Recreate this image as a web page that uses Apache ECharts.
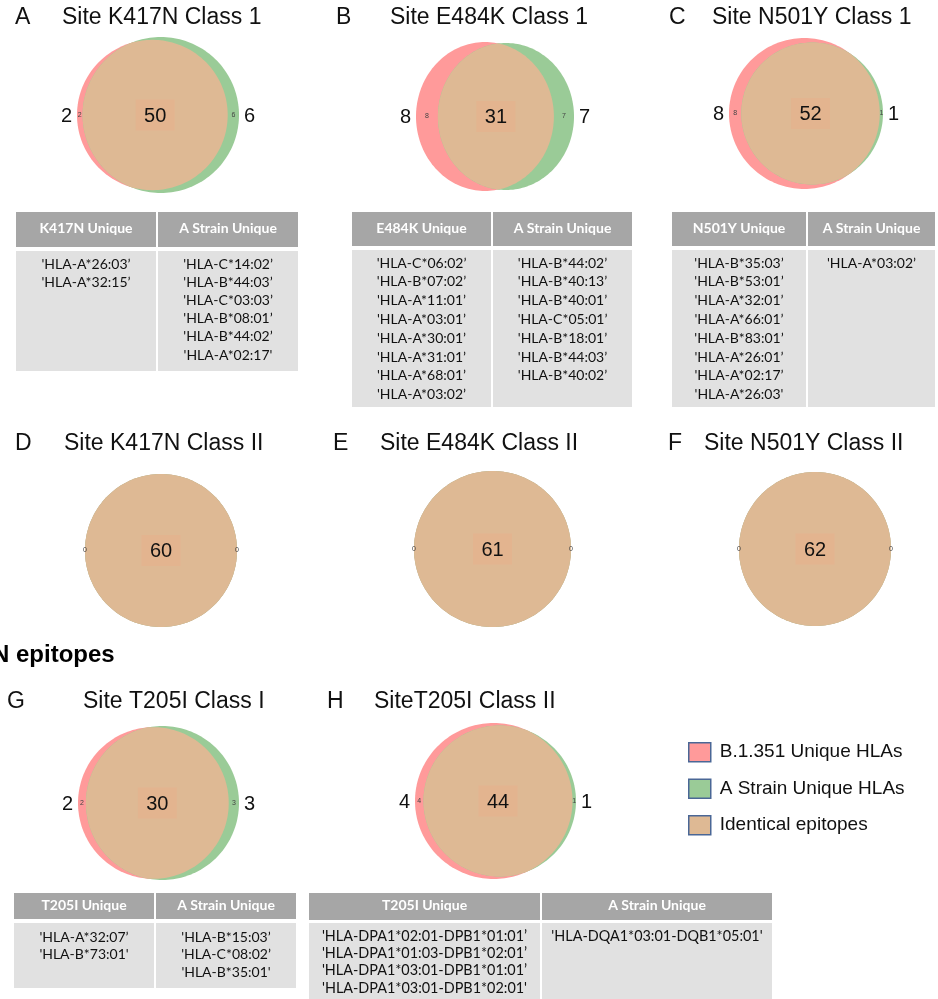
<!DOCTYPE html>
<html>
<head>
<meta charset="utf-8">
<script src="https://cdn.jsdelivr.net/npm/echarts@6/dist/echarts.min.js"></script>
<style>
  html, body { margin: 0; padding: 0; background: #ffffff; }
  #chart { width: 938px; height: 999px; }
</style>
</head>
<body>
<div id="chart"></div>
<script>
// ---- Venn counts per panel ----
const panelLetters = ['A', 'B', 'C', 'D', 'E', 'F', 'G', 'H'];
const panelTitles = [
  'Site K417N Class 1', 'Site E484K Class 1', 'Site N501Y Class 1',
  'Site K417N Class II', 'Site E484K Class II', 'Site N501Y Class II',
  'Site T205I Class I', 'SiteT205I Class II'
];
const mutantUnique = [2, 8, 8, 0, 0, 0, 2, 4];   // B.1.351 unique HLAs
const strainUnique = [6, 7, 1, 0, 0, 0, 3, 1];   // A strain unique HLAs
const identical   = [50, 31, 52, 60, 61, 62, 30, 44];
const showOuterCounts = [true, true, true, false, false, false, true, true];

// ---- Legend names ----
const legendNames = ['B.1.351 Unique HLAs', 'A Strain Unique HLAs', 'Identical epitopes'];
const sectionHeading = 'N epitopes';

// ---- HLA tables ----
const tablePanels = [0, 1, 2, 6, 7];
const tableMutantHeaders = ['K417N Unique', 'E484K Unique', 'N501Y Unique', 'T205I Unique', 'T205I Unique'];
const tableStrainHeader = 'A Strain Unique';
const k417nMutant = ["'HLA-A*26:03\u2019", "'HLA-A*32:15\u2019"];
const k417nStrain = ["'HLA-C*14:02\u2019", "'HLA-B*44:03\u2019", "'HLA-C*03:03\u2019", "'HLA-B*08:01\u2019", "'HLA-B*44:02\u2019", "'HLA-A*02:17'"];
const e484kMutant = ["'HLA-C*06:02\u2019", "'HLA-B*07:02\u2019", "'HLA-A*11:01\u2019", "'HLA-A*03:01\u2019", "'HLA-A*30:01\u2019", "'HLA-A*31:01\u2019", "'HLA-A*68:01\u2019", "'HLA-A*03:02\u2019"];
const e484kStrain = ["'HLA-B*44:02\u2019", "'HLA-B*40:13\u2019", "'HLA-B*40:01\u2019", "'HLA-C*05:01\u2019", "'HLA-B*18:01\u2019", "'HLA-B*44:03\u2019", "'HLA-B*40:02\u2019"];
const n501yMutant = ["'HLA-B*35:03\u2019", "'HLA-B*53:01\u2019", "'HLA-A*32:01\u2019", "'HLA-A*66:01\u2019", "'HLA-B*83:01\u2019", "'HLA-A*26:01\u2019", "'HLA-A*02:17\u2019", "'HLA-A*26:03'"];
const n501yStrain = ["'HLA-A*03:02\u2019"];
const t205iClass1Mutant = ["'HLA-A*32:07\u2019", "'HLA-B*73:01'"];
const t205iClass1Strain = ["'HLA-B*15:03\u2019", "'HLA-C*08:02\u2019", "'HLA-B*35:01'"];
const t205iClass2Mutant = ["'HLA-DPA1*02:01-DPB1*01:01\u2019", "'HLA-DPA1*01:03-DPB1*02:01\u2019", "'HLA-DPA1*03:01-DPB1*01:01\u2019", "'HLA-DPA1*03:01-DPB1*02:01'"];
const t205iClass2Strain = ["'HLA-DQA1*03:01-DQB1*05:01'"];
const tableMutantRows = [k417nMutant, e484kMutant, n501yMutant, t205iClass1Mutant, t205iClass2Mutant];
const tableStrainRows = [k417nStrain, e484kStrain, n501yStrain, t205iClass1Strain, t205iClass2Strain];

// ---- Layout (pixels) ----
// Venn drawing area of each panel: [left, top, width, height]
const vennBoxes = [
  [77, 37, 162, 156], [416, 42, 158, 149], [729, 38, 154, 151],
  [85, 474, 152, 153], [414, 471, 157, 156], [739, 472, 152, 154],
  [78, 726, 161, 154], [415, 723, 161, 156]
];
// letter x, title x, centre y
const titleLayout = [
  [15, 62, 18], [336, 390, 18], [669, 712, 18],
  [15, 64, 444], [333, 380, 444], [668, 704, 444],
  [7, 83, 702], [327, 374, 702]
];
const tableLayout = [
  { x: 16,  w: 282, split: 157, headTop: 212, headH: 35, bodyTop: 251, bodyBottom: 371, line0: 264, gap: 18.2, font: 14 },
  { x: 352, w: 280, split: 492, headTop: 212, headH: 34, bodyTop: 250, bodyBottom: 407, line0: 263, gap: 18.8, font: 14 },
  { x: 672, w: 263, split: 807, headTop: 212, headH: 34, bodyTop: 250, bodyBottom: 407, line0: 263, gap: 18.8, font: 14 },
  { x: 14,  w: 282, split: 155, headTop: 893, headH: 26, bodyTop: 923, bodyBottom: 988, line0: 937, gap: 17.5, font: 14 },
  { x: 309, w: 463, split: 541, headTop: 893, headH: 27, bodyTop: 923, bodyBottom: 999, line0: 936, gap: 17.3, font: 14.4 }
];

const RED = '#FF9A9A';
const GREEN = '#9ACB97';
const TAN = '#DEB994';
const LABEL_BOX = '#E3B48F';
const HEAD_GRAY = '#A6A6A6';
const BODY_GRAY = '#E1E1E1';
const SANS = '"Liberation Sans", Arial, sans-serif';
const TABLE_FONT = 'Lato, "Noto Sans", sans-serif';

// ---- Area-proportional two-set geometry (area of a circle = its count) ----
function lensArea(r1, r2, d) {
  if (d >= r1 + r2) return 0;
  if (d <= Math.abs(r1 - r2)) return Math.PI * Math.min(r1, r2) ** 2;
  const a = r1 * r1 * Math.acos((d * d + r1 * r1 - r2 * r2) / (2 * d * r1));
  const b = r2 * r2 * Math.acos((d * d + r2 * r2 - r1 * r1) / (2 * d * r2));
  const c = 0.5 * Math.sqrt((-d + r1 + r2) * (d + r1 - r2) * (d - r1 + r2) * (d + r1 + r2));
  return a + b - c;
}
function centreDistance(r1, r2, shared) {
  let lo = Math.abs(r1 - r2), hi = r1 + r2;
  if (shared >= Math.PI * Math.min(r1, r2) ** 2 - 1e-9) return lo;
  for (let k = 0; k < 80; k++) {
    const mid = (lo + hi) / 2;
    if (lensArea(r1, r2, mid) > shared) lo = mid; else hi = mid;
  }
  return (lo + hi) / 2;
}
const geoms = identical.map((shared, i) => {
  const r1 = Math.sqrt((mutantUnique[i] + shared) / Math.PI);
  const r2 = Math.sqrt((strainUnique[i] + shared) / Math.PI);
  return { r1, r2, d: centreDistance(r1, r2, shared) };
});

function arcPoints(cx, r, t0, t1, api, n) {
  const pts = [];
  for (let k = 0; k <= n; k++) {
    const t = t0 + (t1 - t0) * k / n;
    pts.push(api.coord([cx + r * Math.cos(t), r * Math.sin(t)]));
  }
  return pts;
}
function lensPoints(g, api) {
  const { r1, r2, d } = g;
  if (d <= Math.abs(r1 - r2) + 1e-9) {
    return r1 <= r2 ? arcPoints(0, r1, 0, 2 * Math.PI, api, 180) : arcPoints(d, r2, 0, 2 * Math.PI, api, 180);
  }
  const x = (d * d + r1 * r1 - r2 * r2) / (2 * d);
  const y = Math.sqrt(Math.max(0, r1 * r1 - x * x));
  const a1 = Math.atan2(y, x);
  const a2 = Math.atan2(y, d - x);
  return arcPoints(0, r1, -a1, a1, api, 120).concat(arcPoints(d, r2, Math.PI - a2, Math.PI + a2, api, 120));
}

const grids = [], xAxes = [], yAxes = [], series = [];
geoms.forEach((g, i) => {
  const b = vennBoxes[i];
  const R = Math.max(g.r1, g.r2);
  grids.push({ left: b[0], top: b[1], width: b[2], height: b[3], outerBoundsMode: 'none', containLabel: false });
  xAxes.push({ type: 'value', gridIndex: i, min: -g.r1, max: g.d + g.r2, show: false });
  yAxes.push({ type: 'value', gridIndex: i, min: -R, max: R, show: false });

  series.push({
    type: 'custom', name: legendNames[0], xAxisIndex: i, yAxisIndex: i,
    data: [[0, 0]], silent: true, animation: false, itemStyle: { color: RED },
    renderItem: (p, api) => ({ type: 'polygon', shape: { points: arcPoints(0, g.r1, 0, 2 * Math.PI, api, 180) }, style: { fill: RED } })
  });
  series.push({
    type: 'custom', name: legendNames[1], xAxisIndex: i, yAxisIndex: i,
    data: [[0, 0]], silent: true, animation: false, itemStyle: { color: GREEN },
    renderItem: (p, api) => ({ type: 'polygon', shape: { points: arcPoints(g.d, g.r2, 0, 2 * Math.PI, api, 180) }, style: { fill: GREEN } })
  });
  series.push({
    type: 'custom', name: legendNames[2], xAxisIndex: i, yAxisIndex: i,
    data: [[0, 0]], silent: true, animation: false, itemStyle: { color: TAN },
    renderItem: (p, api) => {
      const children = [{ type: 'polygon', shape: { points: lensPoints(g, api) }, style: { fill: TAN } }];
      // shared count in the middle of the lens
      const mid = api.coord([((g.d - g.r2) + g.r1) / 2, 0]);
      children.push({ type: 'rect', shape: { x: mid[0] - 19.5, y: mid[1] - 15.5, width: 39, height: 31 }, style: { fill: LABEL_BOX } });
      children.push({ type: 'text', x: mid[0], y: mid[1] + 1, style: { text: String(identical[i]), font: '20px ' + SANS, fill: '#111', align: 'center', verticalAlign: 'middle' } });
      // small counts inside each crescent
      const leftMid = api.coord([(-g.r1 + g.d - g.r2) / 2, 0]);
      const rightMid = api.coord([(g.r1 + g.d + g.r2) / 2, 0]);
      children.push({ type: 'text', x: leftMid[0], y: leftMid[1], style: { text: String(mutantUnique[i]), font: '7px ' + SANS, fill: '#444', align: 'center', verticalAlign: 'middle' } });
      children.push({ type: 'text', x: rightMid[0], y: rightMid[1], style: { text: String(strainUnique[i]), font: '7px ' + SANS, fill: '#444', align: 'center', verticalAlign: 'middle' } });
      // large counts beside the diagram
      if (showOuterCounts[i]) {
        const leftEdge = api.coord([-g.r1, 0]);
        const rightEdge = api.coord([g.d + g.r2, 0]);
        children.push({ type: 'text', x: leftEdge[0] - 5, y: leftEdge[1] + 1, style: { text: String(mutantUnique[i]), font: '20px ' + SANS, fill: '#111', align: 'right', verticalAlign: 'middle' } });
        children.push({ type: 'text', x: rightEdge[0] + 5, y: rightEdge[1] + 1, style: { text: String(strainUnique[i]), font: '20px ' + SANS, fill: '#111', align: 'left', verticalAlign: 'middle' } });
      }
      return { type: 'group', children };
    }
  });
});

// ---- Titles, heading and tables ----
const graphics = [];
panelLetters.forEach((letter, i) => {
  const t = titleLayout[i];
  graphics.push({ type: 'text', x: t[0], y: t[2], style: { text: letter, font: '23px ' + SANS, fill: '#111', verticalAlign: 'middle' } });
  graphics.push({ type: 'text', x: t[1], y: t[2], style: { text: panelTitles[i], font: '23px ' + SANS, fill: '#111', verticalAlign: 'middle' } });
});
graphics.push({ type: 'text', x: -8, y: 655, style: { text: sectionHeading, font: 'bold 24px ' + SANS, fill: '#000', verticalAlign: 'middle' } });

tablePanels.forEach((p, k) => {
  const L = tableLayout[k];
  const cols = [[L.x, L.split - 1], [L.split + 1, L.x + L.w]];
  const heads = [tableMutantHeaders[k], tableStrainHeader];
  const rows = [tableMutantRows[k], tableStrainRows[k]];
  cols.forEach((c, j) => {
    const cx = (c[0] + c[1]) / 2;
    graphics.push({ type: 'rect', shape: { x: c[0], y: L.headTop, width: c[1] - c[0], height: L.headH }, style: { fill: HEAD_GRAY } });
    graphics.push({ type: 'rect', shape: { x: c[0], y: L.bodyTop, width: c[1] - c[0], height: L.bodyBottom - L.bodyTop }, style: { fill: BODY_GRAY } });
    graphics.push({ type: 'text', x: cx, y: L.headTop + L.headH / 2 - 1, style: { text: heads[j], font: 'bold 14px ' + TABLE_FONT, fill: '#ffffff', align: 'center', verticalAlign: 'middle' } });
    rows[j].forEach((txt, r) => {
      graphics.push({ type: 'text', x: cx, y: L.line0 + r * L.gap, style: { text: txt, font: L.font + 'px ' + TABLE_FONT, fill: '#111', align: 'center', verticalAlign: 'middle' } });
    });
  });
});

const chart = echarts.init(document.getElementById('chart'), null, { renderer: 'canvas', width: 938, height: 999 });
chart.setOption({
  backgroundColor: '#ffffff',
  animation: false,
  grid: grids,
  xAxis: xAxes,
  yAxis: yAxes,
  legend: {
    orient: 'vertical', left: 683, top: 737, itemWidth: 22, itemHeight: 19, itemGap: 16,
    selectedMode: false,
    textStyle: { fontFamily: SANS, fontSize: 19, color: '#111', padding: [0, 0, 0, 4] },
    data: legendNames.map((n, i) => ({
      name: n, icon: 'rect',
      itemStyle: { color: [RED, GREEN, TAN][i], borderColor: '#4A6796', borderWidth: 1.5 }
    }))
  },
  graphic: graphics,
  series: series
});
</script>
</body>
</html>
